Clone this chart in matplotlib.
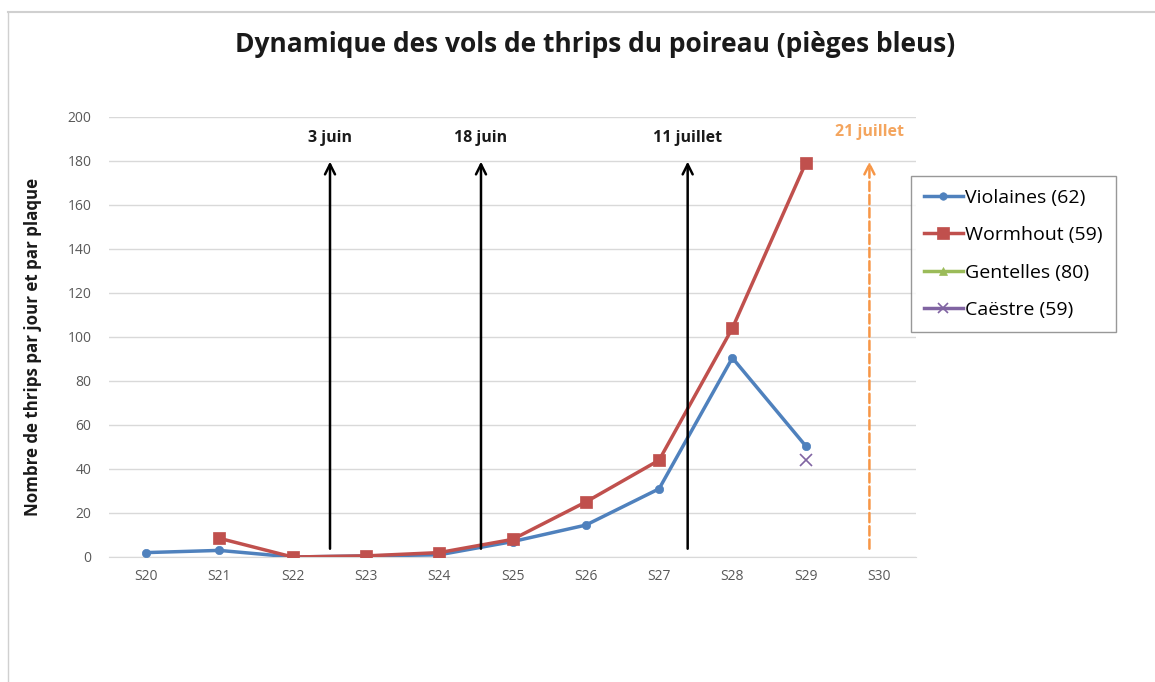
import matplotlib
matplotlib.use("Agg")
import matplotlib.pyplot as plt
from matplotlib.lines import Line2D
import numpy as np

plt.rcParams['font.family'] = ['Open Sans', 'DejaVu Sans']

weeks = ["S20", "S21", "S22", "S23", "S24", "S25", "S26", "S27", "S28", "S29", "S30"]
violaines = [2, 3, 0, 0.5, 1, 7, 14.5, 31, 90.5, 50.5, None]
wormhout = [None, 8.5, 0, 0.5, 2, 8, 25, 44, 104, 179, None]
gentelles = [None] * 11
caestre = [None, None, None, None, None, None, None, None, None, 44, None]

series_names = ["Violaines (62)", "Wormhout (59)", "Gentelles (80)", "Caëstre (59)"]
series_colors = ["#4F81BD", "#C0504D", "#9BBB59", "#8064A2"]
series_markers = ["o", "s", "^", "x"]
series_msize = [6, 9, 7, 8]

event_labels = ["3 juin", "18 juin", "11 juillet", "21 juillet"]
event_pos = [2.51, 4.57, 7.39, 9.87]
event_colors = ["black", "black", "black", "#F79646"]
event_styles = ["-", "-", "-", "--"]
event_label_colors = ["#1a1a1a", "#1a1a1a", "#1a1a1a", "#F4A55E"]

fig = plt.figure(figsize=(11.55, 6.82), dpi=100)
ax = fig.add_axes([109.4 / 1155, 1 - 557 / 682, (915.6 - 109.4) / 1155, (557 - 117) / 682])

x = np.arange(len(weeks))
data = [violaines, wormhout, gentelles, caestre]
for vals, name, c, m, ms in zip(data, series_names, series_colors, series_markers, series_msize):
    y = np.array([np.nan if v is None else v for v in vals], dtype=float)
    ax.plot(x, y, color=c, marker=m, markersize=ms, linewidth=2.5, label=name,
            markeredgewidth=1.2 if m == "x" else 0.5, zorder=3)

for pos, lab, c, ls, lc in zip(event_pos, event_labels, event_colors, event_styles, event_label_colors):
    ax.annotate("", xy=(pos, 181), xytext=(pos, 2.5),
                arrowprops=dict(arrowstyle="->", color=c, lw=1.8, linestyle=ls,
                                mutation_scale=18), zorder=4)
    ty = 190.5 if lc != "#F4A55E" else 193
    ax.text(pos, ty, lab, ha="center", va="center", fontsize=11.5, fontweight="bold",
            color=lc, zorder=5)

ax.set_xlim(-0.5, len(weeks) - 0.5)
ax.set_ylim(0, 200)
ax.set_yticks(np.arange(0, 201, 20))
ax.set_xticks(x)
ax.set_xticklabels(weeks)
ax.tick_params(axis="both", length=0, labelsize=10, labelcolor="#595959")
ax.tick_params(axis="x", pad=9)
ax.tick_params(axis="y", pad=13)
ax.grid(axis="y", color="#D9D9D9", linewidth=1)
ax.set_axisbelow(True)
for s in ["top", "right", "left"]:
    ax.spines[s].set_visible(False)
ax.spines["bottom"].set_color("#D9D9D9")

ax.set_ylabel("Nombre de thrips par jour et par plaque", fontsize=12.2, fontweight="bold",
              color="#1a1a1a")
ax.yaxis.set_label_coords(-0.083, 0.478)

fig.text(595 / 1155, 1 - 45 / 682, "Dynamique des vols de thrips du poireau (pièges bleus)",
         ha="center", va="center", fontsize=19, fontweight="bold", color="#1a1a1a")

handles = [Line2D([0], [0], color=c, marker=m, markersize=ms * 0.9, linewidth=2.5,
                  markeredgewidth=1.2 if m == "x" else 0.5)
           for c, m, ms in zip(series_colors, series_markers, series_msize)]
leg = fig.legend(handles, series_names, loc="upper left",
                 bbox_to_anchor=(911 / 1155, 1 - 176 / 682),
                 fontsize=14, frameon=True, fancybox=False, edgecolor="#7f7f7f",
                 handlelength=2.0, handletextpad=0.15, labelspacing=1.0, borderpad=0.65,
                 borderaxespad=0)
leg.get_frame().set_linewidth(1.0)

# outer frame of the chart area
fig.add_artist(Line2D([8 / 1155, 8 / 1155], [0, 1 - 12 / 682], transform=fig.transFigure,
                      color="#D0D0D0", linewidth=1))
fig.add_artist(Line2D([8 / 1155, 1], [1 - 12 / 682, 1 - 12 / 682], transform=fig.transFigure,
                      color="#D0D0D0", linewidth=1.5))

fig.savefig("out.png", dpi=100)
